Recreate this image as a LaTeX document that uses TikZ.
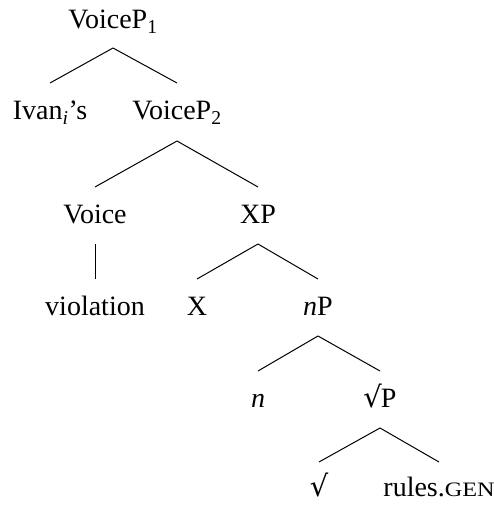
\documentclass[tikz,border=0pt]{standalone}
\usepackage{fontspec}
\setmainfont{Liberation Serif}
\newfontfamily\radfont{DejaVu Serif}
\newcommand\fakesc[1]{{\fontsize{20.5bp}{21bp}\selectfont\scalebox{1.18}[1]{#1}}}
\newcommand\rad{{\radfont\fontsize{29bp}{30bp}\selectfont √}}
\begin{document}
\begin{tikzpicture}[x=1bp,y=1bp,
  lab/.style={anchor=base,inner sep=0pt,outer sep=0pt,font=\fontsize{28bp}{34bp}\selectfont},
  edge/.style={line width=1bp,black}]
\useasboundingbox (0,0) rectangle (494,-505);
\node[lab] (vp1) at (113,-29) {VoiceP\textsubscript{1}};
\node[lab] (ivan) at (50,-120) {Ivan\textsubscript{\textit{i}}’s};
\node[lab] (vp2) at (177,-120) {VoiceP\textsubscript{2}};
\node[lab] (voice) at (95,-223) {Voice};
\node[lab] (xp) at (258,-223) {XP};
\node[lab] (viol) at (95,-315) {violation};
\node[lab] (x) at (197,-315) {X};
\node[lab] (np) at (318,-315) {\textit{n}P};
\node[lab] (n) at (258,-407) {\textit{n}};
\node[lab] (rp) at (380,-407) {\rad\kern-1bp P};
\node[lab] (r) at (319,-496) {\rad};
\node[lab] (rules) at (439,-496) {rules.\fakesc{GEN}};
\foreach \p/\c/\d/\u in {vp1/ivan/19/37, vp1/vp2/19/37, vp2/voice/21/36, vp2/xp/21/36,
  voice/viol/21/36, xp/x/21/36, xp/np/21/36, np/n/21/36, np/rp/21/36, rp/r/21/34, rp/rules/21/34}
  \draw[edge] ([yshift=-\d bp]\p.base) -- ([yshift=\u bp]\c.base);
\end{tikzpicture}
\end{document}
